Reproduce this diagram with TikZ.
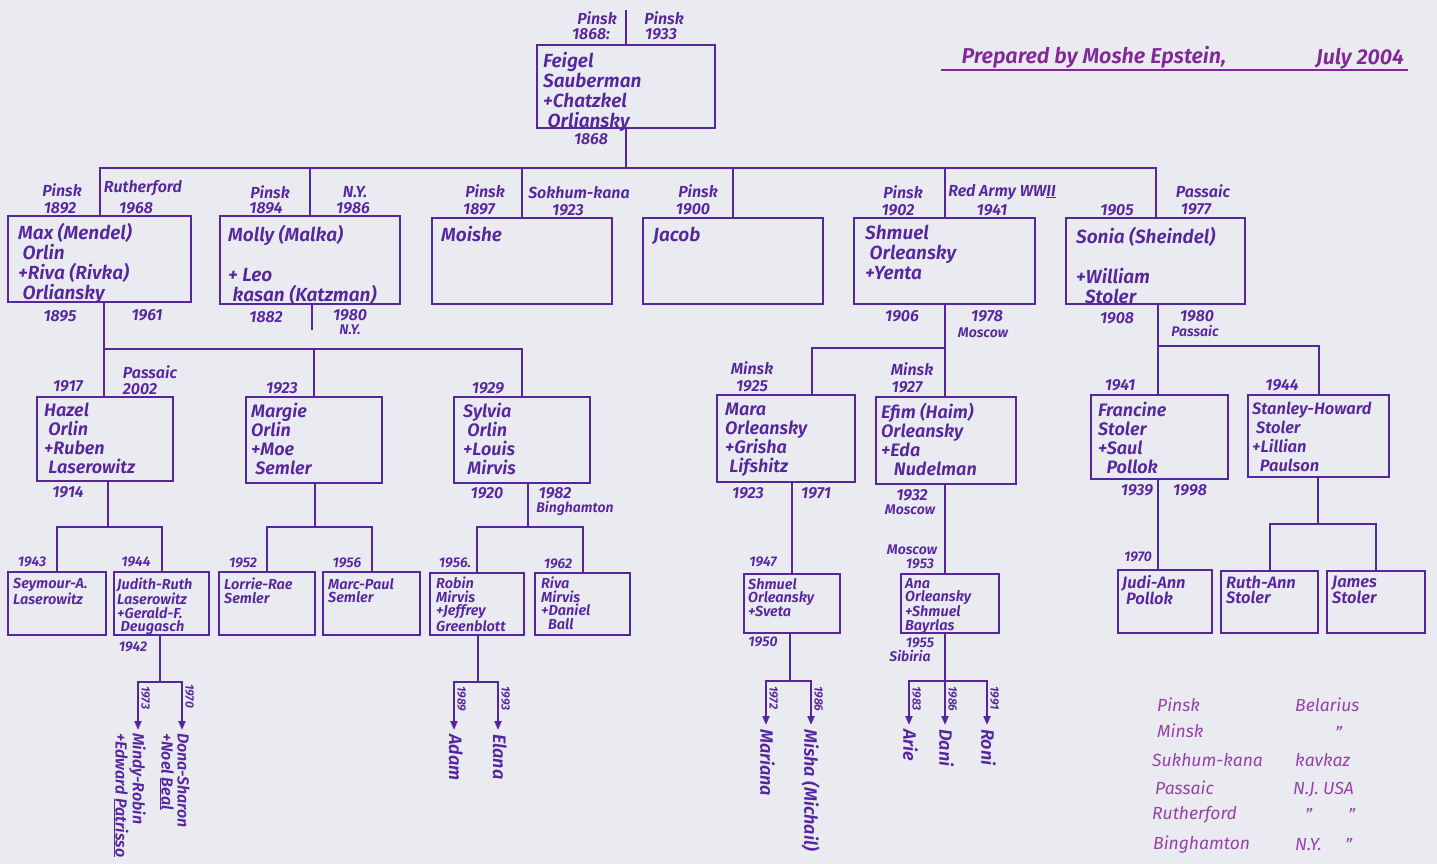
\documentclass[tikz,border=0pt]{standalone}
\usepackage{fontspec}
\setmainfont{Fira Sans}[BoldFont={* SemiBold},BoldItalicFont={* SemiBold Italic}]
\usetikzlibrary{arrows.meta}
\definecolor{ink}{RGB}{86,38,158}
\definecolor{pen}{RGB}{130,40,150}
\definecolor{pencil}{RGB}{150,66,170}
\definecolor{paper}{RGB}{234,234,241}

\begin{document}
\begin{tikzpicture}[x=1pt,y=-1pt,
  fbox/.style={draw=ink,line width=2.4pt,inner sep=0pt},
  sbox/.style={fbox,line width=2.2pt},
  nm/.style={anchor=north west,inner sep=0pt,align=left,text=ink,font=\fontsize{19}{20}\selectfont\bfseries\itshape},
  nmg/.style={nm,font=\fontsize{18}{19}\selectfont\bfseries\itshape},
  nmm/.style={nm,font=\fontsize{16.5}{15}\selectfont\bfseries\itshape},
  nms/.style={nm,font=\fontsize{14.5}{13.5}\selectfont\bfseries\itshape},
  yr/.style={inner sep=0pt,text=ink,font=\fontsize{16}{16}\selectfont\bfseries\itshape},
  yrs/.style={yr,font=\fontsize{14}{14}\selectfont\bfseries\itshape},
  link/.style={draw=ink,line width=2pt},
  kid/.style={link,-{Triangle[length=9pt,width=7pt]}},
  down/.style={inner sep=0pt,rotate=-90,anchor=north west,align=left,text=ink,font=\fontsize{18}{17}\selectfont\bfseries\itshape},
  downyr/.style={inner sep=0pt,rotate=-90,anchor=south west,text=ink,font=\fontsize{12}{12}\selectfont\bfseries\itshape},
  ttl/.style={inner sep=0pt,text=pen,font=\fontsize{21.5}{21.5}\selectfont\bfseries\itshape},
  key/.style={inner sep=0pt,anchor=west,text=pencil,font=\fontsize{17.5}{17.5}\selectfont\itshape}]
\useasboundingbox (0,0) rectangle (1437,864);
\fill[paper] (0,0) rectangle (1437,864);

\node[fbox,minimum width=178pt,minimum height=83pt] (feigel) at (626,86.5) {};
\node[nm] (feigel-t) at (543,52) {Feigel\\Sauberman\\+Chatzkel\\\ Orliansky};
\node[yr] (feigel-bp) at (597,18) {Pinsk};
\node[yr] (feigel-by) at (591,34) {1868:};
\node[yr] (feigel-dp) at (664,18) {Pinsk};
\node[yr] (feigel-dy) at (661,34) {1933};
\node[yr] (feigel-m) at (591,139) {1868};
\coordinate (top) at (626,10);
\draw[ink,line width=1.2pt] (feigel.north) -- (top);

\node[fbox,minimum width=183pt,minimum height=86pt] (max) at (99.5,259) {};
\node[fbox,minimum width=180pt,minimum height=88pt] (molly) at (310,260) {};
\node[fbox,minimum width=180pt,minimum height=86pt] (moishe) at (522,261) {};
\node[fbox,minimum width=180pt,minimum height=86pt] (jacob) at (733,261) {};
\node[fbox,minimum width=181pt,minimum height=86pt] (shmuel) at (944.5,261) {};
\node[fbox,minimum width=179pt,minimum height=86pt] (sonia) at (1155.5,261) {};
\node[nm] (max-t) at (18,223) {Max (Mendel)\\\ Orlin\\+Riva (Rivka)\\\ Orliansky};
\node[nm] (molly-t) at (228,225) {Molly (Malka)\\[20pt]+ Leo\\\ kasan (Katzman)};
\node[nm] (moishe-t) at (441,226) {Moishe};
\node[nm] (jacob-t) at (653,227) {Jacob};
\node[nm] (shmuel-t) at (865,225) {Shmuel\\\ Orleansky\\+Yenta};
\node[nm] (sonia-t) at (1076,227) {Sonia (Sheindel)\\[20pt]+William\\\ \ Stoler};

\coordinate (g1) at (626,168);
\draw[link] (feigel.south) -- (g1);
\draw[link] (max.north) |- (g1) -| (sonia.north);
\draw[link] (molly.north) -- (molly.north |- g1);
\draw[link] (moishe.north) -- (moishe.north |- g1);
\draw[link] (jacob.north) -- (jacob.north |- g1);
\draw[link] (shmuel.north) -- (shmuel.north |- g1);

\node[yr] (max-bp) at (62,190) {Pinsk};
\node[yr] (max-by) at (60,208) {1892};
\node[yr] (max-dp) at (143,188) {Rutherford};
\node[yr] (max-dy) at (136,208) {1968};
\node[yr] (max-m) at (60,316) {1895};
\node[yr] (max-d) at (147,315) {1961};
\node[yr] (molly-bp) at (270,192) {Pinsk};
\node[yr] (molly-by) at (266,208) {1894};
\node[yr] (molly-dp) at (355,192) {N.Y.};
\node[yr] (molly-dy) at (353,208) {1986};
\node[yr] (molly-m) at (266,317) {1882};
\node[yr] (molly-d) at (350,315) {1980};
\node[yrs] (molly-dd) at (350,330) {N.Y.};
\node[yr] (moishe-bp) at (485,191) {Pinsk};
\node[yr] (moishe-by) at (479,209) {1897};
\node[yr] (moishe-dp) at (579,193) {Sokhum-kana};
\node[yr] (moishe-dy) at (568,210) {1923};
\node[yr] (jacob-bp) at (698,191) {Pinsk};
\node[yr] (jacob-by) at (693,209) {1900};
\node[yr] (shmuel-bp) at (903,192) {Pinsk};
\node[yr] (shmuel-by) at (898,210) {1902};
\node[yr] (shmuel-dp) at (1002,192) {Red Army WW\underline{II}};
\node[yr] (shmuel-dy) at (992,210) {1941};
\node[yr] (shmuel-m) at (902,316) {1906};
\node[yr] (shmuel-d) at (987,316) {1978};
\node[yrs] (shmuel-dd) at (983,333) {Moscow};
\node[yr] (sonia-by) at (1117,210) {1905};
\node[yr] (sonia-dp) at (1203,191) {Passaic};
\node[yr] (sonia-dy) at (1196,209) {1977};
\node[yr] (sonia-m) at (1117,318) {1908};
\node[yr] (sonia-d) at (1197,316) {1980};
\node[yrs] (sonia-dd) at (1195,331) {Passaic};
\coordinate (mollyd) at (312,330);
\draw[link] (molly.south -| mollyd) -- (mollyd);

\node[fbox,minimum width=136pt,minimum height=84pt] (hazel) at (105,439) {};
\node[fbox,minimum width=136pt,minimum height=86pt] (margie) at (314,440) {};
\node[fbox,minimum width=136pt,minimum height=86pt] (sylvia) at (522,440) {};
\node[fbox,minimum width=138pt,minimum height=87pt] (mara) at (786,438.5) {};
\node[fbox,minimum width=140pt,minimum height=87pt] (efim) at (946,440.5) {};
\node[fbox,minimum width=137pt,minimum height=84pt] (francine) at (1159.5,437) {};
\node[fbox,minimum width=141pt,minimum height=82pt] (stanley) at (1318.5,436) {};
\node[nmg] (hazel-t) at (44,403) {Hazel\\\ Orlin\\+Ruben\\\ Laserowitz};
\node[nmg] (margie-t) at (251,403) {Margie\\Orlin\\+Moe\\\ Semler};
\node[nmg] (sylvia-t) at (463,403) {Sylvia\\\ Orlin\\+Louis\\\ Mirvis};
\node[nmg] (mara-t) at (725,403) {Mara\\Orleansky\\+Grisha\\\ Lifshitz};
\node[nmg] (efim-t) at (881,403) {Efim (Haim)\\Orleansky\\+Eda\\\ \ \ Nudelman};
\node[nmg] (francine-t) at (1098,402) {Francine\\Stoler\\+Saul\\\ \ Pollok};
\node[nmg,font=\fontsize{16.5}{19}\selectfont\bfseries\itshape] (stanley-t) at (1252,402) {Stanley-Howard\\\ Stoler\\+Lillian\\\ \ Paulson};

\coordinate (g2a) at (104,349);
\draw[link] (max.south -| g2a) -- (g2a) -| (sylvia.north);
\draw[link] (g2a) -- (g2a |- hazel.north);
\draw[link] (margie.north) -- (margie.north |- g2a);
\coordinate (g2b) at (945,348);
\coordinate (g2bm) at (812,348);
\draw[link] (shmuel.south -| g2b) -- (efim.north -| g2b);
\draw[link] (g2b) -- (g2bm) -- (g2bm |- mara.north);
\coordinate (g2c) at (1158,346);
\draw[link] (sonia.south -| g2c) -- (francine.north -| g2c);
\draw[link] (g2c) -| (stanley.north);

\node[yr] (hazel-b) at (68,386) {1917};
\node[yr] (hazel-dp) at (150,372) {Passaic};
\node[yr] (hazel-d) at (140,389) {2002};
\node[yr] (hazel-m) at (68,492) {1914};
\node[yr] (margie-b) at (282,388) {1923};
\node[yr] (sylvia-b) at (488,388) {1929};
\node[yr] (sylvia-m) at (487,493) {1920};
\node[yr] (sylvia-d) at (555,493) {1982};
\node[yrs] (sylvia-dd) at (575,508) {Binghamton};
\node[yr] (mara-bp) at (752,368) {Minsk};
\node[yr] (mara-b) at (752,386) {1925};
\node[yr] (mara-m) at (748,493) {1923};
\node[yr] (mara-d) at (816,493) {1971};
\node[yr] (efim-bp) at (912,369) {Minsk};
\node[yr] (efim-b) at (907,387) {1927};
\node[yr] (efim-m) at (912,495) {1932};
\node[yrs] (efim-mp) at (910,510) {Moscow};
\node[yr] (francine-b) at (1120,385) {1941};
\node[yr] (francine-m) at (1137,490) {1939};
\node[yr] (francine-d) at (1190,490) {1998};
\node[yr] (stanley-b) at (1282,385) {1944};

\node[sbox,minimum width=98pt,minimum height=63pt] (seymour) at (57,603.5) {};
\node[sbox,minimum width=95pt,minimum height=63pt] (judith) at (161.5,603.5) {};
\node[sbox,minimum width=96pt,minimum height=63pt] (lorrie) at (267,603.5) {};
\node[sbox,minimum width=97pt,minimum height=63pt] (marc) at (371.5,603.5) {};
\node[sbox,minimum width=94pt,minimum height=62pt] (robin) at (477,604) {};
\node[sbox,minimum width=95pt,minimum height=62pt] (riva) at (582.5,604) {};
\node[sbox,minimum width=96pt,minimum height=59pt] (shmuelj) at (792,603.5) {};
\node[sbox,minimum width=98pt,minimum height=59pt] (ana) at (950,603.5) {};
\node[sbox,minimum width=94pt,minimum height=63pt] (judi) at (1165,601.5) {};
\node[sbox,minimum width=97pt,minimum height=62pt] (ruth) at (1269.5,602) {};
\node[sbox,minimum width=98pt,minimum height=62pt] (james) at (1376,602) {};
\node[nms] (seymour-t) at (13,578) {Seymour-A.\\Laserowitz};
\node[nms] (judith-t) at (117,578) {Judith-Ruth\\Laserowitz\\+Gerald-F.\\\ Deugasch};
\node[nms] (lorrie-t) at (224,578) {Lorrie-Rae\\Semler};
\node[nms] (marc-t) at (328,578) {Marc-Paul\\Semler};
\node[nms] (robin-t) at (436,577) {Robin\\Mirvis\\+Jeffrey\\Greenblott};
\node[nms] (riva-t) at (541,577) {Riva\\Mirvis\\+Daniel\\\ \ Ball};
\node[nms] (shmuelj-t) at (748,578) {Shmuel\\Orleansky\\+Sveta};
\node[nms] (ana-t) at (905,578) {Ana\\Orleansky\\+Shmuel\\Bayrlas};
\node[nmm] (judi-t) at (1122,575) {Judi-Ann\\\ Pollok};
\node[nmm] (ruth-t) at (1226,576) {Ruth-Ann\\Stoler};
\node[nmm] (james-t) at (1332,576) {James\\Stoler};

\coordinate (g3a) at (108,527);
\draw[link] (hazel.south -| g3a) -- (g3a);
\draw[link] (seymour.north) -- (seymour.north |- g3a) -- (judith.north |- g3a) -- (judith.north);
\coordinate (g3b) at (315,527);
\draw[link] (margie.south -| g3b) -- (g3b);
\draw[link] (lorrie.north) -- (lorrie.north |- g3b) -- (marc.north |- g3b) -- (marc.north);
\coordinate (g3c) at (528,527);
\draw[link] (sylvia.south -| g3c) -- (g3c);
\draw[link] (robin.north) -- (robin.north |- g3c) -- (riva.north |- g3c) -- (riva.north);
\draw[link] (mara.south -| shmuelj.north) -- (shmuelj.north);
\draw[link] (efim.south -| g2b) -- (ana.north -| g2b);
\draw[link] (francine.south -| g2c) -- (judi.north -| g2c);
\coordinate (g3g) at (1318,524);
\draw[link] (stanley.south -| g3g) -- (g3g);
\draw[link] (ruth.north) -- (ruth.north |- g3g) -- (james.north |- g3g) -- (james.north);

\node[yrs] (seymour-b) at (32,562) {1943};
\node[yrs] (judith-b) at (136,562) {1944};
\node[yrs] (judith-m) at (133,647) {1942};
\node[yrs] (lorrie-b) at (243,563) {1952};
\node[yrs] (marc-b) at (347,563) {1956};
\node[yrs] (robin-b) at (455,563) {1956.};
\node[yrs] (riva-b) at (558,564) {1962};
\node[yrs] (shmuelj-b) at (763,562) {1947};
\node[yrs] (shmuelj-m) at (763,642) {1950};
\node[yrs] (ana-bp) at (912,550) {Moscow};
\node[yrs] (ana-b) at (920,564) {1953};
\node[yrs] (ana-m) at (920,643) {1955};
\node[yrs] (ana-mp) at (910,656) {Sibiria};
\node[yrs] (judi-b) at (1138,557) {1970};

\coordinate (g4a) at (160,682);
\coordinate (mindy) at (138,730);
\coordinate (dona) at (182,730);
\draw[link] (judith.south -| g4a) -- (g4a);
\draw[kid] (g4a) -| (mindy);
\draw[kid] (g4a) -| (dona);
\node[down,font=\fontsize{16}{16}\selectfont\bfseries\itshape] (mindy-t) at ([shift={(8,3)}]mindy) {Mindy-Robin\\+Edward \underline{Patrisso}};
\node[down,font=\fontsize{16}{16}\selectfont\bfseries\itshape] (dona-t) at ([shift={(8,3)}]dona) {Dona-Sharon\\+Noel \underline{Beal}};
\node[downyr] (mindy-y) at (141,686) {1973};
\node[downyr] (dona-y) at (185,684) {1970};

\coordinate (g4b) at (478,682);
\coordinate (adam) at (454,730);
\coordinate (elana) at (498,730);
\draw[link] (robin.south -| g4b) -- (g4b);
\draw[kid] (g4b) -| (adam);
\draw[kid] (g4b) -| (elana);
\node[down] (adam-t) at ([shift={(9,4)}]adam) {Adam};
\node[down] (elana-t) at ([shift={(9,4)}]elana) {Elana};
\node[downyr] (adam-y) at (457,686) {1989};
\node[downyr] (elana-y) at (501,686) {1993};

\coordinate (g4c) at (790,681);
\coordinate (mariana) at (766,725);
\coordinate (misha) at (811,725);
\draw[link] (shmuelj.south -| g4c) -- (g4c);
\draw[kid] (g4c) -| (mariana);
\draw[kid] (g4c) -| (misha);
\node[down] (mariana-t) at ([shift={(9,4)}]mariana) {Mariana};
\node[down] (misha-t) at ([shift={(9,4)}]misha) {Misha (Michail)};
\node[downyr] (mariana-y) at (769,686) {1972};
\node[downyr] (misha-y) at (814,686) {1986};

\coordinate (g4d) at (945,681);
\coordinate (arie) at (909,725);
\coordinate (dani) at (945,725);
\coordinate (roni) at (987,725);
\draw[link] (ana.south -| g4d) -- (g4d);
\draw[kid] (g4d) -| (arie);
\draw[kid] (g4d) -- (dani);
\draw[kid] (g4d) -| (roni);
\node[down] (arie-t) at ([shift={(9,4)}]arie) {Arie};
\node[down] (dani-t) at ([shift={(9,4)}]dani) {Dani};
\node[down] (roni-t) at ([shift={(9,4)}]roni) {Roni};
\node[downyr] (arie-y) at (912,686) {1983};
\node[downyr] (dani-y) at (948,686) {1986};
\node[downyr] (roni-y) at (990,686) {1991};

\node[ttl] (title) at (1094,57) {Prepared by Moshe Epstein,};
\node[ttl] (date) at (1360,59) {July 2004};
\coordinate (ul-a) at (941,70);
\coordinate (ul-b) at (1408,70);
\draw[pen,line width=2.2pt] (ul-a) -- (ul-b);

\node[key] (k1) at (1157,705) {Pinsk};
\node[key] (k2) at (1157,731) {Minsk};
\node[key] (k3) at (1152,760) {Sukhum-kana};
\node[key] (k4) at (1155,788) {Passaic};
\node[key] (k5) at (1152,815) {Rutherford};
\node[key] (k6) at (1153,845) {Binghamton};
\node[key] (v1) at (1295,705) {Belarius};
\node[key] (v2) at (1335,733) {”};
\node[key] (v3) at (1295,760) {kavkaz};
\node[key] (v4) at (1293,790) {N.J. USA};
\node[key] (v5a) at (1305,815) {”};
\node[key] (v5b) at (1348,815) {”};
\node[key] (v6a) at (1295,845) {N.Y.};
\node[key] (v6b) at (1345,845) {”};
\end{tikzpicture}
\end{document}
